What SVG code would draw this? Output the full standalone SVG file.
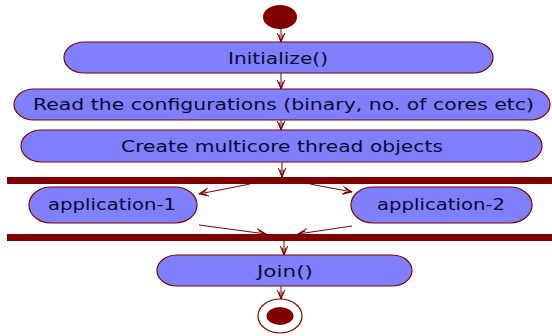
<svg xmlns="http://www.w3.org/2000/svg" width="552" height="336" viewBox="0 0 552 336">
  <style>
    .act { fill: #8080ff; stroke: #800000; stroke-width: 1.2; }
    .bar { fill: #800000; }
    .lbl { font-family: "DejaVu Sans", Verdana, sans-serif; font-size: 15px; fill: #0a0a2a; text-anchor: middle; }
    .flow { stroke: #800000; stroke-width: 1; fill: none; marker-end: url(#vhead); }
  </style>
  <defs>
    <marker id="vhead" viewBox="0 0 10 10" refX="9.5" refY="5" markerWidth="10" markerHeight="10" markerUnits="userSpaceOnUse" orient="auto">
      <path d="M0,1 L9.5,5 L0,9 M2,3 L9.5,5 L2,7" stroke="#800000" stroke-width="1" fill="none"/>
    </marker>
  </defs>

  <g id="start">
    <ellipse cx="280" cy="17" rx="17" ry="12" fill="#800000"/>
  </g>

  <g id="initialize">
    <rect class="act" x="64" y="42" width="429" height="31" rx="20" ry="15.5"/>
    <text class="lbl" x="278" y="64" textLength="100" lengthAdjust="spacingAndGlyphs">Initialize()</text>
  </g>

  <g id="read-config">
    <rect class="act" x="14" y="89" width="536" height="31" rx="20" ry="15.5"/>
    <text class="lbl" x="283.5" y="110" textLength="501" lengthAdjust="spacingAndGlyphs">Read the configurations (binary, no. of cores etc)</text>
  </g>

  <g id="create-threads">
    <rect class="act" x="21" y="130" width="521" height="32" rx="20" ry="16"/>
    <text class="lbl" x="282" y="152" textLength="322" lengthAdjust="spacingAndGlyphs">Create multicore thread objects</text>
  </g>

  <g id="fork">
    <rect class="bar" x="7" y="177" width="545" height="7"/>
  </g>

  <g id="application-1">
    <rect class="act" x="29" y="187" width="168" height="36" rx="22" ry="18"/>
    <text class="lbl" x="112" y="210" textLength="128" lengthAdjust="spacingAndGlyphs">application-1</text>
  </g>

  <g id="application-2">
    <rect class="act" x="351" y="187" width="181" height="36" rx="22" ry="18"/>
    <text class="lbl" x="441" y="210" textLength="128" lengthAdjust="spacingAndGlyphs">application-2</text>
  </g>

  <g id="join-bar">
    <rect class="bar" x="7" y="234" width="545" height="7"/>
  </g>

  <g id="join">
    <rect class="act" x="157" y="255" width="255" height="31" rx="20" ry="15.5"/>
    <text class="lbl" x="285" y="277" textLength="56" lengthAdjust="spacingAndGlyphs">Join()</text>
  </g>

  <g id="end">
    <ellipse cx="280" cy="316" rx="22" ry="17" fill="#ffffff" stroke="#800000" stroke-width="1.2"/>
    <ellipse cx="280" cy="316" rx="13.5" ry="9" fill="#800000"/>
  </g>

  <g id="connectors">
    <line class="flow" x1="281" y1="29" x2="281" y2="42"/>
    <line class="flow" x1="281" y1="73" x2="281" y2="89"/>
    <line class="flow" x1="281" y1="120" x2="281" y2="130"/>
    <line class="flow" x1="282" y1="162" x2="282" y2="177"/>
    <line class="flow" x1="250" y1="184" x2="199" y2="194"/>
    <line class="flow" x1="310" y1="184" x2="352" y2="192"/>
    <line class="flow" x1="199" y1="225" x2="266" y2="234"/>
    <line class="flow" x1="352" y1="226" x2="298" y2="234"/>
    <line class="flow" x1="284" y1="241" x2="284" y2="255"/>
    <line class="flow" x1="281" y1="286" x2="281" y2="299"/>
  </g>
</svg>
